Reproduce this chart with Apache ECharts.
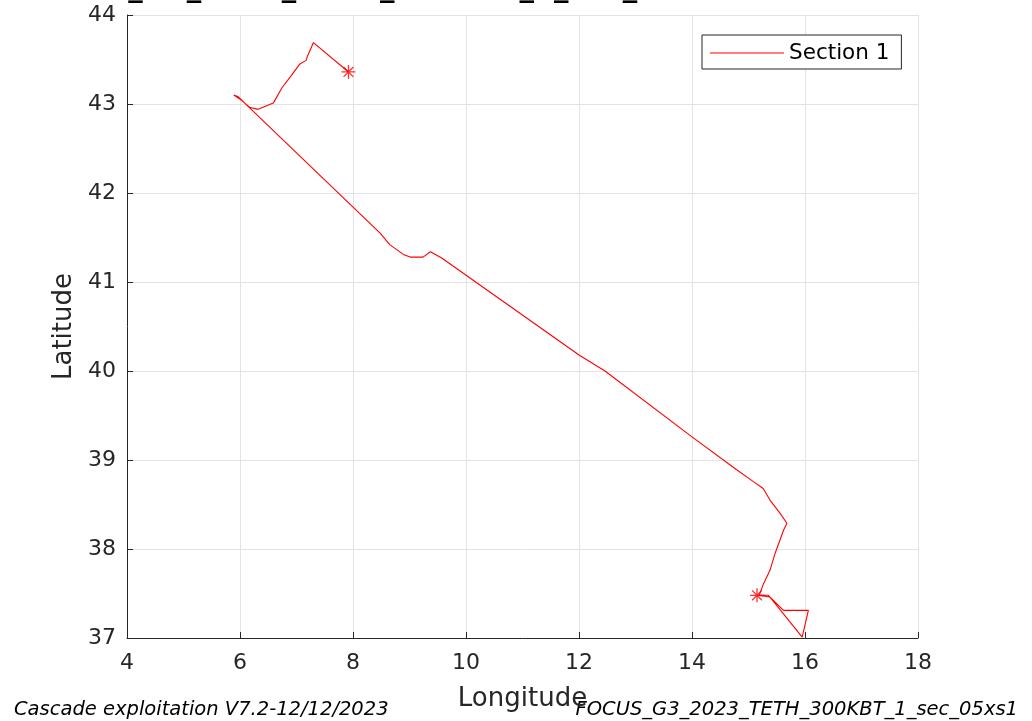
<!DOCTYPE html>
<html>
<head>
<meta charset="utf-8">
<script src="https://cdn.jsdelivr.net/npm/echarts@6/dist/echarts.min.js"></script>
<style>html,body{margin:0;padding:0;background:#fff}#c{width:1032px;height:721px}</style>
</head>
<body>
<div id="c"></div>
<script>
// Track longitudes / latitudes (Section 1)
const lon = [7.92, 7.30, 7.19, 7.17, 7.06, 6.92, 6.74, 6.59, 6.32, 6.18, 6.01, 5.89, 5.97, 6.18,
  8.48, 8.65, 8.89, 9.01, 9.24, 9.37, 9.57, 12.00, 12.46, 14.00, 14.79, 15.08, 15.26, 15.38,
  15.56, 15.68, 15.62, 15.47, 15.38, 15.26, 15.19, 15.35, 15.62, 16.06, 15.95, 15.38, 15.15];
const lat = [43.36, 43.69, 43.53, 43.49, 43.45, 43.33, 43.18, 43.01, 42.94, 42.96, 43.05, 43.10, 43.08, 42.95,
  41.55, 41.42, 41.31, 41.28, 41.28, 41.34, 41.27, 40.18, 40.00, 39.26, 38.89, 38.76, 38.68, 38.55,
  38.40, 38.29, 38.21, 37.95, 37.76, 37.60, 37.48, 37.48, 37.31, 37.31, 37.01, 37.46, 37.48];
const seriesName = 'Section 1';
const xTicks = [4, 6, 8, 10, 12, 14, 16, 18];
const yTicks = [37, 38, 39, 40, 41, 42, 43, 44];
const titleText = 'FOCUS_G3_2023_TETH_300KBT_1_sec_05xs1';
const footLeft = 'Cascade exploitation V7.2-12/12/2023';
const footRight = 'FOCUS_G3_2023_TETH_300KBT_1_sec_05xs1';

const track = lon.map((v, i) => [v, lat[i]]);
const ends = [track[0], track[track.length - 1]];
const FONT = '"DejaVu Sans", sans-serif';
const DARK = '#262626';

const chart = echarts.init(document.getElementById('c'));
chart.setOption({
  animation: false,
  backgroundColor: '#fff',
  grid: { left: 127, right: 114, top: 15, bottom: 83, containLabel: false },
  xAxis: {
    type: 'value', min: xTicks[0], max: xTicks[xTicks.length - 1], interval: 2,
    name: 'Longitude', nameLocation: 'middle', nameGap: 48,
    nameTextStyle: { fontFamily: FONT, fontSize: 26, color: DARK },
    axisLine: { show: true, onZero: false, lineStyle: { color: DARK, width: 1 } },
    axisTick: { show: true, inside: true, length: 6, lineStyle: { color: DARK } },
    axisLabel: { fontFamily: FONT, fontSize: 22, color: DARK, margin: 14 },
    splitLine: { show: true, lineStyle: { color: '#e3e3e3', width: 1 } }
  },
  yAxis: {
    type: 'value', min: yTicks[0], max: yTicks[yTicks.length - 1], interval: 1,
    name: 'Latitude', nameLocation: 'middle', nameGap: 50, nameRotate: 90,
    nameTextStyle: { fontFamily: FONT, fontSize: 26, color: DARK },
    axisLine: { show: true, onZero: false, lineStyle: { color: DARK, width: 1 } },
    axisTick: { show: true, inside: true, length: 6, lineStyle: { color: DARK } },
    axisLabel: { fontFamily: FONT, fontSize: 22, color: DARK, margin: 11 },
    splitLine: { show: true, lineStyle: { color: '#e3e3e3', width: 1 } }
  },
  legend: {
    data: [seriesName],
    left: 702, top: 35,
    padding: [7, 12, 5, 8],
    backgroundColor: '#fff',
    borderColor: DARK, borderWidth: 1,
    icon: 'rect', itemWidth: 74, itemHeight: 1,
    textStyle: { fontFamily: FONT, fontSize: 21.5, color: '#000' }
  },
  series: [
    {
      name: seriesName, type: 'line', data: track, showSymbol: false, symbol: 'none',
      lineStyle: { color: '#ff0000', width: 1.1 }, itemStyle: { color: '#ff0000' }
    },
    {
      name: 'ends', type: 'scatter', data: ends, symbolSize: 14,
      symbol: 'path://M0,-1L0,1M-1,0L1,0M-0.7,-0.7L0.7,0.7M-0.7,0.7L0.7,-0.7',
      itemStyle: { color: 'none', borderColor: '#ff0000', borderWidth: 1.3 }
    }
  ],
  graphic: [
    { type: 'text', x: 18, y: -12, silent: true,
      style: { text: titleText, font: 'bold 29px ' + FONT, fill: '#000', verticalAlign: 'middle', align: 'left' } },
    { type: 'text', x: 14, y: 710, silent: true,
      style: { text: footLeft, font: 'italic 19.5px ' + FONT, fill: '#000', verticalAlign: 'middle', align: 'left' } },
    { type: 'text', x: 1018, y: 710, silent: true,
      style: { text: footRight, font: 'italic 19.5px ' + FONT, fill: '#000', verticalAlign: 'middle', align: 'right' } }
  ]
});
</script>
</body>
</html>
